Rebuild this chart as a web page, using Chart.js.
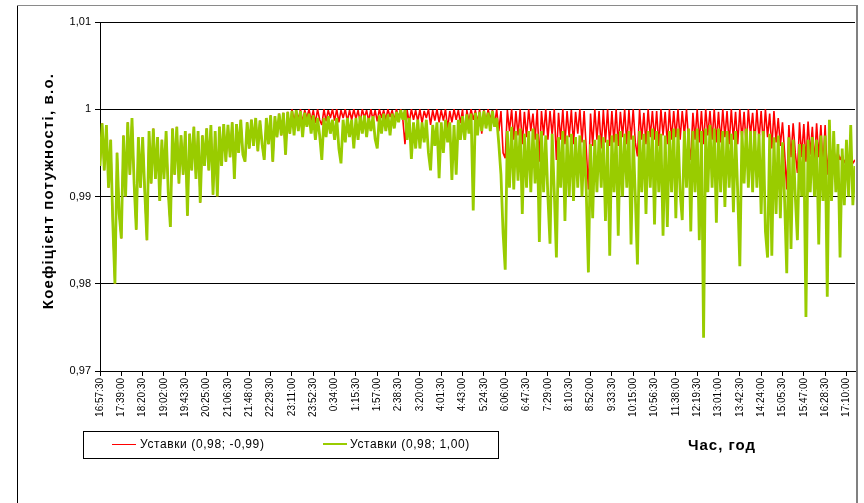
<!DOCTYPE html>
<html>
<head>
<meta charset="utf-8">
<script src="https://cdn.jsdelivr.net/npm/chart.js@4.4.1/dist/chart.umd.min.js"></script>
<style>
  html, body { margin: 0; padding: 0; background: #fff; }
  #graficoCosFi { display: block; }
</style>
</head>
<body>
<canvas id="graficoCosFi" width="864" height="503"></canvas>
<script>
// Підписи осі часу (кожна 10-та точка)
const timeLabels = ['16:57:30', '17:39:00', '18:20:30', '19:02:00', '19:43:30', '20:25:00', '21:06:30', '21:48:00',
  '22:29:30', '23:11:00', '23:52:30', '0:34:00', '1:15:30', '1:57:00', '2:38:30', '3:20:00', '4:01:30', '4:43:00',
  '5:24:30', '6:06:00', '6:47:30', '7:29:00', '8:10:30', '8:52:00', '9:33:30', '10:15:00', '10:56:30', '11:38:00',
  '12:19:30', '13:01:00', '13:42:30', '14:24:00', '15:05:30', '15:47:00', '16:28:30', '17:10:00'];
const pointsPerLabel = 10;

const yTickValues = [0.97, 0.98, 0.99, 1.0, 1.01];
const yTickLabels = ['0,97', '0,98', '0,99', '1', '1,01'];

const seriesNames = ['Уставки (0,98; -0,99)', 'Уставки (0,98; 1,00)'];

// Уставки (0,98; 1,00) - зелена, один рядок = один інтервал між підписами
const greenValues = [
  0.9935, 0.9984, 0.9930, 0.9982, 0.9910, 0.9965, 0.9870, 0.9800, 0.9950, 0.9880,
  0.9852, 0.9970, 0.9900, 0.9985, 0.9925, 0.9990, 0.9915, 0.9862, 0.9968, 0.9910,
  0.9968, 0.9905, 0.9850, 0.9975, 0.9915, 0.9978, 0.9920, 0.9968, 0.9895, 0.9965,
  0.9920, 0.9975, 0.9905, 0.9865, 0.9978, 0.9925, 0.9980, 0.9915, 0.9970, 0.9925,
  0.9975, 0.9878, 0.9972, 0.9930, 0.9980, 0.9920, 0.9975, 0.9893, 0.9970, 0.9935,
  0.9978, 0.9930, 0.9982, 0.9902, 0.9975, 0.9900, 0.9980, 0.9935, 0.9983, 0.9940,
  0.9982, 0.9945, 0.9985, 0.9920, 0.9983, 0.9950, 0.9988, 0.9948, 0.9940, 0.9985,
  0.9955, 0.9988, 0.9958, 0.9990, 0.9952, 0.9987, 0.9960, 0.9942, 0.9990, 0.9960,
  0.9993, 0.9940, 0.9992, 0.9968, 0.9995, 0.9970, 0.9996, 0.9948, 0.9997, 0.9972,
  0.9998, 0.9970, 0.9999, 0.9975, 0.9998, 0.9968, 0.9996, 0.9980, 0.9995, 0.9972,
  0.9993, 0.9965, 0.9990, 0.9970, 0.9942, 0.9990, 0.9968, 0.9992, 0.9972, 0.9988,
  0.9965, 0.9990, 0.9955, 0.9938, 0.9988, 0.9962, 0.9990, 0.9968, 0.9988, 0.9955,
  0.9990, 0.9965, 0.9992, 0.9972, 0.9993, 0.9968, 0.9990, 0.9975, 0.9992, 0.9966,
  0.9955, 0.9993, 0.9972, 0.9995, 0.9975, 0.9994, 0.9970, 0.9995, 0.9978, 0.9997,
  0.9985, 0.9999, 0.9988, 0.9999, 0.9965, 0.9990, 0.9943, 0.9985, 0.9955, 0.9988,
  0.9955, 0.9985, 0.9962, 0.9988, 0.9950, 0.9930, 0.9982, 0.9958, 0.9985, 0.9921,
  0.9985, 0.9950, 0.9988, 0.9962, 0.9985, 0.9919, 0.9982, 0.9925, 0.9988, 0.9965,
  0.9992, 0.9965, 0.9994, 0.9972, 0.9995, 0.9884, 0.9996, 0.9970, 0.9997, 0.9975,
  0.9998, 0.9978, 0.9996, 0.9975, 0.9998, 0.9980, 0.9990, 0.9960, 0.9925, 0.9858,
  0.9816, 0.9975, 0.9910, 0.9980, 0.9908, 0.9975, 0.9918, 0.9978, 0.9880, 0.9972,
  0.9910, 0.9975, 0.9905, 0.9978, 0.9915, 0.9972, 0.9848, 0.9975, 0.9905, 0.9970,
  0.9900, 0.9846, 0.9972, 0.9905, 0.9830, 0.9968, 0.9910, 0.9975, 0.9872, 0.9970,
  0.9900, 0.9972, 0.9895, 0.9968, 0.9910, 0.9970, 0.9900, 0.9965, 0.9905, 0.9813,
  0.9960, 0.9875, 0.9965, 0.9905, 0.9970, 0.9910, 0.9968, 0.9872, 0.9965, 0.9832,
  0.9970, 0.9905, 0.9972, 0.9855, 0.9975, 0.9900, 0.9972, 0.9910, 0.9975, 0.9845,
  0.9970, 0.9900, 0.9822, 0.9975, 0.9905, 0.9972, 0.9880, 0.9975, 0.9910, 0.9978,
  0.9868, 0.9975, 0.9905, 0.9972, 0.9855, 0.9970, 0.9865, 0.9975, 0.9905, 0.9978,
  0.9875, 0.9978, 0.9905, 0.9873, 0.9975, 0.9910, 0.9978, 0.9860, 0.9975, 0.9905,
  0.9978, 0.9850, 0.9975, 0.9738, 0.9978, 0.9905, 0.9982, 0.9910, 0.9978, 0.9870,
  0.9978, 0.9905, 0.9975, 0.9888, 0.9975, 0.9910, 0.9972, 0.9882, 0.9975, 0.9905,
  0.9820, 0.9975, 0.9915, 0.9978, 0.9910, 0.9975, 0.9905, 0.9975, 0.9910, 0.9972,
  0.9880, 0.9975, 0.9860, 0.9830, 0.9972, 0.9832, 0.9968, 0.9880, 0.9970, 0.9875,
  0.9962, 0.9895, 0.9812, 0.9968, 0.9840, 0.9965, 0.9900, 0.9850, 0.9960, 0.9900,
  0.9960, 0.9762, 0.9965, 0.9905, 0.9968, 0.9900, 0.9965, 0.9845, 0.9970, 0.9895,
  0.9970, 0.9785, 0.9988, 0.9895, 0.9975, 0.9905, 0.9960, 0.9830, 0.9955, 0.9890,
  0.9965, 0.9900, 0.9982, 0.9890, 0.9935
];

// Уставки (0,98; -0,99) - червона (до ~23:00 збігається з зеленою)
const redValues = [
  0.9935, 0.9984, 0.9930, 0.9982, 0.9910, 0.9965, 0.9870, 0.9800, 0.9950, 0.9880,
  0.9852, 0.9970, 0.9900, 0.9985, 0.9925, 0.9990, 0.9915, 0.9862, 0.9968, 0.9910,
  0.9968, 0.9905, 0.9850, 0.9975, 0.9915, 0.9978, 0.9920, 0.9968, 0.9895, 0.9965,
  0.9920, 0.9975, 0.9905, 0.9865, 0.9978, 0.9925, 0.9980, 0.9915, 0.9970, 0.9925,
  0.9975, 0.9878, 0.9972, 0.9930, 0.9980, 0.9920, 0.9975, 0.9893, 0.9970, 0.9935,
  0.9978, 0.9930, 0.9982, 0.9902, 0.9975, 0.9900, 0.9980, 0.9935, 0.9983, 0.9940,
  0.9982, 0.9945, 0.9985, 0.9920, 0.9983, 0.9950, 0.9988, 0.9948, 0.9940, 0.9985,
  0.9955, 0.9988, 0.9958, 0.9990, 0.9952, 0.9987, 0.9960, 0.9942, 0.9990, 0.9960,
  0.9993, 0.9940, 0.9992, 0.9968, 0.9995, 0.9970, 0.9996, 0.9948, 0.9997, 0.9972,
  1.0000, 0.9986, 0.9999, 0.9988, 1.0000, 0.9985, 0.9999, 0.9990, 1.0000, 0.9987,
  0.9999, 0.9984, 1.0000, 0.9988, 0.9982, 1.0000, 0.9986, 0.9999, 0.9990, 1.0000,
  0.9987, 1.0000, 0.9985, 0.9999, 0.9990, 1.0000, 0.9986, 0.9999, 0.9988, 1.0000,
  0.9989, 0.9999, 0.9985, 1.0000, 0.9990, 0.9999, 0.9986, 1.0000, 0.9988, 0.9999,
  0.9986, 1.0000, 0.9990, 0.9999, 0.9988, 1.0000, 0.9991, 0.9999, 0.9987, 1.0000,
  0.9990, 1.0000, 0.9988, 0.9960, 0.9999, 0.9985, 1.0000, 0.9988, 0.9999, 0.9986,
  1.0000, 0.9984, 0.9998, 0.9990, 1.0000, 0.9982, 0.9999, 0.9987, 1.0000, 0.9985,
  0.9999, 0.9987, 1.0000, 0.9978, 0.9998, 0.9985, 1.0000, 0.9988, 0.9999, 0.9984,
  1.0000, 0.9968, 0.9999, 0.9986, 1.0000, 0.9988, 0.9999, 0.9985, 1.0000, 0.9972,
  0.9999, 0.9985, 1.0000, 0.9988, 0.9999, 0.9982, 1.0000, 0.9975, 0.9998, 0.9950,
  0.9944, 0.9999, 0.9975, 1.0000, 0.9965, 0.9998, 0.9970, 1.0000, 0.9960, 0.9997,
  0.9968, 1.0000, 0.9975, 0.9995, 0.9965, 1.0000, 0.9940, 0.9998, 0.9970, 1.0000,
  0.9965, 0.9998, 0.9970, 1.0000, 0.9942, 0.9996, 0.9965, 1.0000, 0.9960, 0.9998,
  0.9968, 0.9999, 0.9960, 0.9997, 0.9972, 1.0000, 0.9962, 0.9998, 0.9955, 0.9908,
  0.9995, 0.9958, 1.0000, 0.9965, 0.9998, 0.9955, 0.9999, 0.9962, 1.0000, 0.9958,
  0.9998, 0.9962, 1.0000, 0.9958, 0.9997, 0.9968, 1.0000, 0.9960, 0.9999, 0.9965,
  1.0000, 0.9962, 0.9946, 1.0000, 0.9965, 0.9996, 0.9960, 1.0000, 0.9968, 0.9998,
  0.9965, 0.9998, 0.9958, 1.0000, 0.9970, 0.9997, 0.9960, 1.0000, 0.9965, 0.9998,
  0.9968, 1.0000, 0.9965, 0.9998, 0.9970, 1.0000, 0.9962, 0.9942, 0.9996, 0.9965,
  1.0000, 0.9962, 0.9998, 0.9960, 1.0000, 0.9970, 0.9998, 0.9965, 1.0000, 0.9962,
  0.9997, 0.9962, 1.0000, 0.9968, 0.9998, 0.9960, 1.0000, 0.9965, 0.9997, 0.9960,
  1.0000, 0.9965, 0.9997, 0.9958, 1.0000, 0.9970, 0.9996, 0.9962, 1.0000, 0.9965,
  0.9998, 0.9960, 1.0000, 0.9968, 0.9995, 0.9955, 0.9998, 0.9962, 0.9990, 0.9958,
  0.9985, 0.9950, 0.9908, 0.9982, 0.9945, 0.9984, 0.9950, 0.9927, 0.9985, 0.9945,
  0.9983, 0.9940, 0.9986, 0.9948, 0.9980, 0.9938, 0.9984, 0.9945, 0.9982, 0.9935,
  0.9982, 0.9925, 0.9960, 0.9945, 0.9955, 0.9940, 0.9950, 0.9942, 0.9948, 0.9938,
  0.9945, 0.9940, 0.9950, 0.9938, 0.9942
];

const FONT = 'Arial, "Liberation Sans", sans-serif';
const RED = '#FF0000';
const GREEN = '#99CC00';

// Рамка, назви осей і легенда як в Excel
const decorPlugin = {
  id: 'decor',
  beforeDraw(chart) {
    const ctx = chart.ctx;
    ctx.save();
    ctx.fillStyle = '#fff';
    ctx.fillRect(0, 0, chart.width, chart.height);
    ctx.restore();
  },
  afterDraw(chart) {
    const ctx = chart.ctx;
    ctx.save();
    // рамка області діаграми
    ctx.lineWidth = 1;
    ctx.strokeStyle = '#000';
    ctx.beginPath(); ctx.moveTo(17.5, 5); ctx.lineTo(17.5, 503); ctx.stroke();
    ctx.strokeStyle = '#8a8a8a';
    ctx.beginPath(); ctx.moveTo(17, 5.5); ctx.lineTo(857, 5.5); ctx.stroke();
    ctx.lineWidth = 2;
    ctx.strokeStyle = '#808080';
    ctx.beginPath(); ctx.moveTo(857, 5); ctx.lineTo(857, 503); ctx.stroke();

    // назва осі Y
    ctx.fillStyle = '#000';
    ctx.font = 'bold 15px ' + FONT;
    ctx.letterSpacing = '1.2px';
    ctx.textAlign = 'center';
    ctx.textBaseline = 'middle';
    ctx.save();
    ctx.translate(49, 191);
    ctx.rotate(-Math.PI / 2);
    ctx.fillText('Коефіцієнт потужності, в.о.', 0, 0);
    ctx.restore();

    // назва осі X
    ctx.font = 'bold 15px ' + FONT;
    ctx.letterSpacing = '1px';
    ctx.fillText('Час, год', 722, 446);

    // легенда
    ctx.letterSpacing = '0.6px';
    ctx.lineWidth = 1;
    ctx.strokeStyle = '#000';
    ctx.strokeRect(83.5, 431.5, 415, 27);
    ctx.strokeStyle = RED;
    ctx.beginPath(); ctx.moveTo(112, 444.5); ctx.lineTo(136, 444.5); ctx.stroke();
    ctx.strokeStyle = GREEN;
    ctx.lineWidth = 2;
    ctx.beginPath(); ctx.moveTo(323, 444); ctx.lineTo(347, 444); ctx.stroke();
    ctx.font = '12px ' + FONT;
    ctx.textAlign = 'left';
    ctx.fillStyle = '#000';
    ctx.fillText(seriesNames[0], 140, 445);
    ctx.fillText(seriesNames[1], 350, 445);
    ctx.restore();
  }
};

new Chart(document.getElementById('graficoCosFi'), {
  type: 'line',
  data: {
    datasets: [
      { label: seriesNames[1], data: greenValues.map((v, i) => ({ x: i, y: v })), borderColor: GREEN, borderWidth: 2.8, order: 0 },
      { label: seriesNames[0], data: redValues.map((v, i) => ({ x: i, y: v })), borderColor: RED, borderWidth: 1.6, order: 1 }
    ]
  },
  options: {
    responsive: false,
    animation: false,
    devicePixelRatio: 1,
    layout: { padding: { top: 22, right: 9, left: 0, bottom: 0 } },
    elements: {
      point: { radius: 0, hoverRadius: 0 },
      line: { tension: 0, borderJoinStyle: 'bevel', fill: false }
    },
    plugins: { legend: { display: false }, tooltip: { enabled: false } },
    scales: {
      x: {
        type: 'linear',
        min: 0,
        max: greenValues.length - 1,
        afterBuildTicks: (s) => { s.ticks = timeLabels.map((_, i) => ({ value: i * pointsPerLabel })); },
        afterFit: (s) => { s.height = 132; },
        grid: { drawOnChartArea: false, drawTicks: true, tickLength: 5, color: '#000' },
        border: { display: true, color: '#000' },
        ticks: {
          autoSkip: false, maxRotation: 90, minRotation: 90, padding: 2,
          color: '#000', font: { family: FONT, size: 10 },
          callback: (v, i) => timeLabels[i]
        }
      },
      y: {
        min: 0.97,
        max: 1.01,
        afterBuildTicks: (s) => { s.ticks = yTickValues.map((v) => ({ value: v })); },
        afterFit: (s) => { s.width = 100; },
        grid: { color: '#000', tickLength: 5 },
        border: { display: true, color: '#000' },
        ticks: {
          padding: 4, color: '#000', font: { family: FONT, size: 11 },
          callback: (v, i) => yTickLabels[i]
        }
      }
    }
  },
  plugins: [decorPlugin]
});
</script>
</body>
</html>
